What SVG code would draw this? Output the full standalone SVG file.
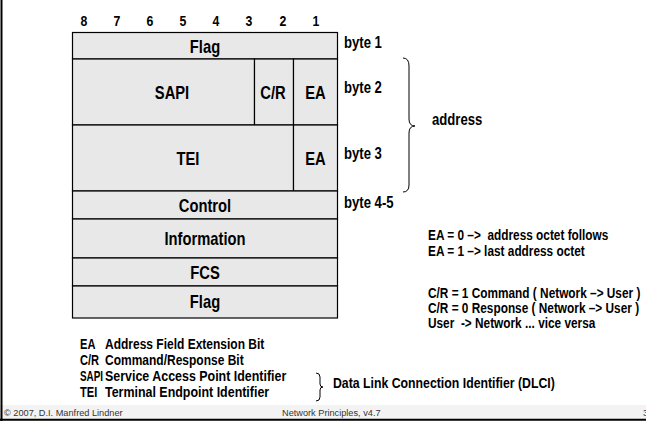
<svg xmlns="http://www.w3.org/2000/svg" width="646" height="421" viewBox="0 0 646 421">
<style>
text{font-family:"Liberation Sans",Arial,sans-serif;font-weight:bold;fill:#000;white-space:pre}
.cell{fill:#e8e8e8;stroke:#000;stroke-width:1.2}
.lbl{font-size:18px;text-anchor:middle}
.bit{font-size:15px;text-anchor:middle}
.byte{font-size:16px}
.note{font-size:15px}
.rn{font-size:14px}
.foot{font-weight:normal;font-size:9.2px;fill:#333}
.brace{fill:none;stroke:#000;stroke-width:1}
</style>
<rect x="0" y="0" width="646" height="421" fill="#fff"/>
<g id="frame">
<rect x="0" y="405" width="646" height="14" fill="#f3f3f3"/>
<line x1="0" y1="419.8" x2="646" y2="419.8" stroke="#000" stroke-width="2"/>
<line x1="1.5" y1="0" x2="1.5" y2="421" stroke="#000" stroke-width="2"/>
</g>
<g id="bits">
<text class="bit" transform="translate(84,26) scale(0.82,1)">8</text>
<text class="bit" transform="translate(117,26) scale(0.82,1)">7</text>
<text class="bit" transform="translate(150,26) scale(0.82,1)">6</text>
<text class="bit" transform="translate(183,26) scale(0.82,1)">5</text>
<text class="bit" transform="translate(216,26) scale(0.82,1)">4</text>
<text class="bit" transform="translate(249,26) scale(0.82,1)">3</text>
<text class="bit" transform="translate(283,26) scale(0.82,1)">2</text>
<text class="bit" transform="translate(316,26) scale(0.82,1)">1</text>
</g>
<g id="flag1"><rect class="cell" x="72.5" y="32.5" width="265" height="26.5"/><text class="lbl" transform="translate(205,52.5) scale(0.82,1)">Flag</text></g>
<g id="sapi"><rect class="cell" x="72.5" y="59" width="182" height="66"/><text class="lbl" transform="translate(172,99) scale(0.82,1)">SAPI</text></g>
<g id="cr"><rect class="cell" x="254.5" y="59" width="39" height="66"/><text class="lbl" transform="translate(273,99) scale(0.82,1)">C/R</text></g>
<g id="ea1"><rect class="cell" x="293.5" y="59" width="44" height="66"/><text class="lbl" transform="translate(315.5,99) scale(0.82,1)">EA</text></g>
<g id="tei"><rect class="cell" x="72.5" y="125" width="221" height="66"/><text class="lbl" transform="translate(188,165) scale(0.82,1)">TEI</text></g>
<g id="ea2"><rect class="cell" x="293.5" y="125" width="44" height="66"/><text class="lbl" transform="translate(315.5,165) scale(0.82,1)">EA</text></g>
<g id="control"><rect class="cell" x="72.5" y="191" width="265" height="28"/><text class="lbl" transform="translate(205,211.5) scale(0.82,1)">Control</text></g>
<g id="information"><rect class="cell" x="72.5" y="219" width="265" height="39"/><text class="lbl" transform="translate(205,245) scale(0.82,1)">Information</text></g>
<g id="fcs"><rect class="cell" x="72.5" y="258" width="265" height="28"/><text class="lbl" transform="translate(205,278.5) scale(0.82,1)">FCS</text></g>
<g id="flag2"><rect class="cell" x="72.5" y="286" width="265" height="32"/><text class="lbl" transform="translate(205,308) scale(0.82,1)">Flag</text></g>
<g id="bytes">
<text class="byte" transform="translate(344,48) scale(0.82,1)">byte 1</text>
<text class="byte" transform="translate(344,93) scale(0.82,1)">byte 2</text>
<text class="byte" transform="translate(344,159) scale(0.82,1)">byte 3</text>
<text class="byte" transform="translate(344,208) scale(0.82,1)">byte 4-5</text>
</g>
<g id="connectors">
<path class="brace" d="M403,58 Q409,58 409,66 L409,119 Q409,126 415,126 Q409,126 409,133 L409,185 Q409,192 403,192"/>
<path class="brace" d="M316,373 Q320,373 320,377 L320,384 Q320,387 323,387 Q320,387 320,390 L320,397 Q320,401 316,401"/>
</g>
<g id="address"><text class="byte" transform="translate(432,125) scale(0.82,1)">address</text></g>
<g id="notes">
<text class="rn" transform="translate(428,240) scale(0.846,1)">EA = 0 –&gt;  address octet follows</text>
<text class="rn" transform="translate(428,256) scale(0.846,1)">EA = 1 –&gt; last address octet</text>
<text class="rn" transform="translate(428,298) scale(0.846,1)">C/R = 1 Command ( Network –&gt; User )</text>
<text class="rn" transform="translate(428,313) scale(0.846,1)">C/R = 0 Response ( Network –&gt; User )</text>
<text class="rn" transform="translate(428,328) scale(0.846,1)">User  -&gt; Network ... vice versa</text>
</g>
<g id="legend">
<text class="note" transform="translate(80,349) scale(0.74,1)">EA</text><text class="note" transform="translate(105,349) scale(0.8,1)">Address Field Extension Bit</text>
<text class="note" transform="translate(80,365) scale(0.74,1)">C/R</text><text class="note" transform="translate(105,365) scale(0.8,1)">Command/Response Bit</text>
<text class="note" transform="translate(80,381) scale(0.66,1)">SAPI</text><text class="note" transform="translate(105,381) scale(0.83,1)">Service Access Point Identifier</text>
<text class="note" transform="translate(80,397) scale(0.74,1)">TEI</text><text class="note" transform="translate(105,397) scale(0.83,1)">Terminal Endpoint Identifier</text>
<text class="note" transform="translate(333,388) scale(0.82,1)">Data Link Connection Identifier (DLCI)</text>
</g>
<g id="footer">
<text class="foot" x="4" y="415.5">© 2007, D.I. Manfred Lindner</text>
<text class="foot" x="282" y="415.5">Network Principles, v4.7</text>
<text class="foot" x="643" y="415.5">3</text>
</g>
</svg>
